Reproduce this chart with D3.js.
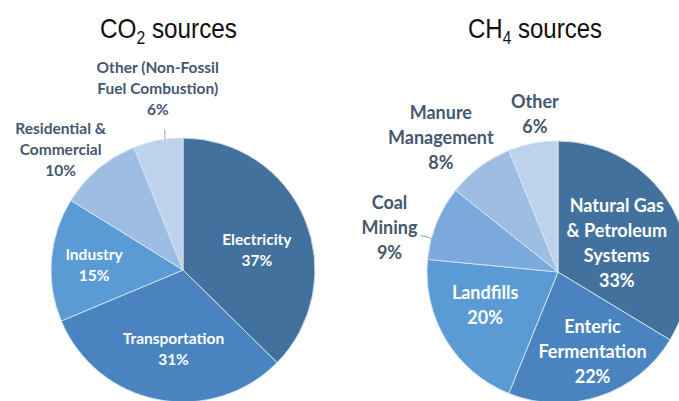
<!DOCTYPE html>
<html>
<head>
<meta charset="utf-8">
<script src="https://cdn.jsdelivr.net/npm/d3@7"></script>
<style>
  html, body { margin: 0; padding: 0; background: #fff; }
  svg { display: block; }
</style>
</head>
<body>
<svg id="chart" width="679" height="401"></svg>
<script>
// ---- data ----
const co2Categories = [["Electricity"], ["Transportation"], ["Industry"], ["Residential &", "Commercial"], ["Other (Non-Fossil", "Fuel Combustion)"]];
const co2Values = [37, 31, 15, 10, 6];
const ch4Categories = [["Natural Gas", "& Petroleum", "Systems"], ["Enteric", "Fermentation"], ["Landfills"], ["Coal", "Mining"], ["Manure", "Management"], ["Other"]];
const ch4Values = [33, 22, 20, 9, 8, 6];
const titles = [["CO", "2", " sources"], ["CH", "4", " sources"]];

// ---- styles / layout ----
const colors = ["#41719c", "#4a84c0", "#5b9bd5", "#7ba9dc", "#9dbde3", "#bfd2eb"];
const co2Colors = [colors[0], colors[1], colors[2], colors[4], colors[5]];
const ch4Colors = colors;
const darkText = "#465870";

const svg = d3.select("#chart");

function polar(cx, cy, r, a) {
  return [cx + r * Math.sin(a), cy - r * Math.cos(a)];
}

function drawPie(opts) {
  const { cx, cy, R, values, cats, cols, layout, fontSize, lineH } = opts;
  const pie = d3.pie().sort(null).value(d => d);
  const arcs = pie(values);
  const arc = d3.arc().innerRadius(0).outerRadius(R);
  const g = svg.append("g").attr("transform", `translate(${cx},${cy})`);
  g.selectAll("path").data(arcs).join("path")
    .attr("d", arc)
    .attr("fill", (d, i) => cols[i])
    .attr("stroke", "#d6e3f2")
    .attr("stroke-width", 0.9);

  arcs.forEach((d, i) => {
    const L = layout[i];
    const mid = (d.startAngle + d.endAngle) / 2 + (L.da || 0) * Math.PI / 180;
    const [x, y] = polar(0, 0, R * L.k, mid);
    const lines = cats[i].concat([values[i] + "%"]);
    const n = lines.length;
    const t = g.append("text")
      .attr("text-anchor", "middle")
      .attr("font-family", "Lato, 'Open Sans', sans-serif")
      .attr("font-weight", "bold")
      .attr("font-size", fontSize)
      .attr("fill", L.out ? darkText : "#ffffff");
    lines.forEach((s, j) => {
      t.append("tspan")
        .attr("x", x)
        .attr("y", y + (j - (n - 1) / 2) * lineH + fontSize * 0.35 + (L.dy || 0))
        .text(s);
    });
    if (L.leader === "vertical") {
      const p = polar(0, 0, R, mid);
      g.append("line")
        .attr("x1", p[0]).attr("x2", p[0])
        .attr("y1", p[1]).attr("y2", p[1] - 10)
        .attr("stroke", "#9aa3ad").attr("stroke-width", 1);
    } else if (L.leader === "curve") {
      const p = polar(0, 0, R * 0.995, mid);
      const sx = x + 31, sy = y + 8 + (L.dy || 0);
      g.append("path")
        .attr("d", `M${sx},${sy} Q${sx + 8},${sy + 1} ${p[0]},${p[1]}`)
        .attr("fill", "none")
        .attr("stroke", "#8a96a3").attr("stroke-width", 1);
    }
  });
}

// titles (condensed to match the narrow face of the original)
const titleX = [168.5, 535];
const titleW = [137, 134];
titles.forEach((tt, i) => {
  const g = svg.append("g");
  const t = g.append("text")
    .attr("x", 0).attr("y", 0)
    .attr("text-anchor", "middle")
    .attr("font-family", "'Liberation Sans Narrow', 'Arial Narrow', 'Liberation Sans', sans-serif")
    .attr("font-size", 28)
    .attr("fill", "#111");
  t.append("tspan").text(tt[0]);
  t.append("tspan").attr("font-size", 18).attr("dy", 6).text(tt[1]);
  t.append("tspan").attr("dy", -6).text(tt[2]);
  const w = t.node().getBBox().width;
  const s = Math.min(1, titleW[i] / w);
  g.attr("transform", `translate(${titleX[i]},38) scale(${s},1)`);
});

drawPie({
  cx: 183, cy: 270, R: 132,
  values: co2Values, cats: co2Categories, cols: co2Colors,
  fontSize: 15.5, lineH: 21,
  layout: [
    { k: 0.58, da: 7.5 },
    { k: 0.6, da: -4 },
    { k: 0.675, da: -1.5 },
    { k: 1.3, da: -5.5, out: true },
    { k: 1.39, da: 3, out: true, leader: "vertical" }
  ]
});

drawPie({
  cx: 558, cy: 272, R: 131,
  values: ch4Values, cats: ch4Categories, cols: ch4Colors,
  fontSize: 18, lineH: 25,
  layout: [
    { k: 0.5, da: 3.2 },
    { k: 0.66, da: -5.2 },
    { k: 0.61, da: 7 },
    { k: 1.33, da: -7.3, out: true, leader: "curve" },
    { k: 1.36, da: -4.4, out: true },
    { k: 1.22, da: 2.7, out: true }
  ]
});
</script>
</body>
</html>
